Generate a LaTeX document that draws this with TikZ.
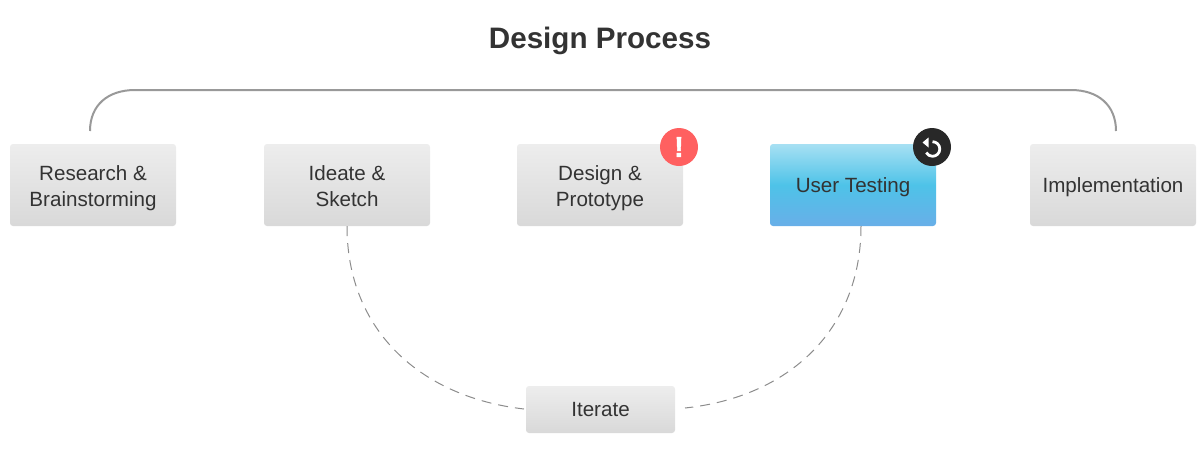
\documentclass[tikz,border=0pt]{standalone}
\usepackage{fontspec}
\setmainfont{Liberation Sans}
\definecolor{inktext}{HTML}{333333}
\definecolor{bracketline}{HTML}{999999}
\definecolor{dashline}{HTML}{8C8C8C}
\definecolor{alertred}{HTML}{FF6060}
\definecolor{undoblack}{HTML}{282828}
\definecolor{testtop}{HTML}{A7E0F3}
\definecolor{testmid}{HTML}{4EC3E8}
\definecolor{testbottom}{HTML}{68AEE8}
\tikzset{
	stepbox/.style={rounded corners=3pt,minimum width=166pt,minimum height=82pt,inner sep=0pt,
		align=center,text=inktext,font=\fontsize{20.6}{26}\selectfont,
		execute at begin node=\rule{0pt}{20pt},
		execute at end node=\rule[-6pt]{0pt}{6pt},
		top color=black!7,bottom color=black!15},
	twolines/.style={execute at begin node=\rule{0pt}{49pt}},
	testbox/.style={stepbox,top color=testtop,bottom color=testbottom,middle color=testmid},
	badge/.style={circle,minimum size=38pt,inner sep=0pt},
	dashcurve/.style={dashline,line width=1pt,dash pattern=on 10pt off 7pt},
}
\begin{document}
\begin{tikzpicture}[x=1pt,y=-1pt]
	\useasboundingbox (0,0) rectangle (1200,461);
	\node[text=inktext,font=\fontsize{29.6}{36}\bfseries\selectfont] (title) at (600,41) {Design Process};
	% steps
	\node[stepbox,twolines] (research) at (93,185) {Research \&\\Brainstorming};
	\node[stepbox,twolines] (ideate) at (347,185) {Ideate \&\\Sketch};
	\node[stepbox,twolines] (design) at (600,185) {Design \&\\Prototype};
	\node[testbox] (testing) at (853,185) {User Testing};
	\node[stepbox] (implementation) at (1113,185) {Implementation};
	\node[stepbox,minimum width=149pt,minimum height=47pt] (iterate) at (600.5,409.5) {Iterate};
	% badges
	\node[badge,fill=alertred,text=white,font=\fontsize{29}{29}\bfseries\selectfont\addfontfeature{FakeBold=1.5}] (alert) at (679,147) {!};
	\node[badge,fill=undoblack] (undo) at (932,147) {};
	\draw[white,line width=2.8pt] (932.5,141.7) arc[start angle=-90,end angle=150,radius=7.3];
	\fill[white] (922.5,142.5) -- (928.5,137.5) -- (928.5,147.5) -- cycle;
	% connectors
	\coordinate (bracketleft) at (90,131);
	\coordinate (bracketright) at (1116,131);
	\coordinate (testingfoot) at (861,226);
	\coordinate (iterateleft) at (524,409);
	\coordinate (iterateright) at (685,408);
	\draw[bracketline,line width=2pt] (bracketleft) .. controls (90,105) and (108,90) .. (135,90)
		-- (1071,90) .. controls (1098,90) and (1116,105) .. (bracketright);
	\draw[dashcurve] (ideate.south) .. controls (347,330) and (420,397) .. (iterateleft);
	\draw[dashcurve] (testingfoot) .. controls (861,330) and (789,397) .. (iterateright);
\end{tikzpicture}
\end{document}
